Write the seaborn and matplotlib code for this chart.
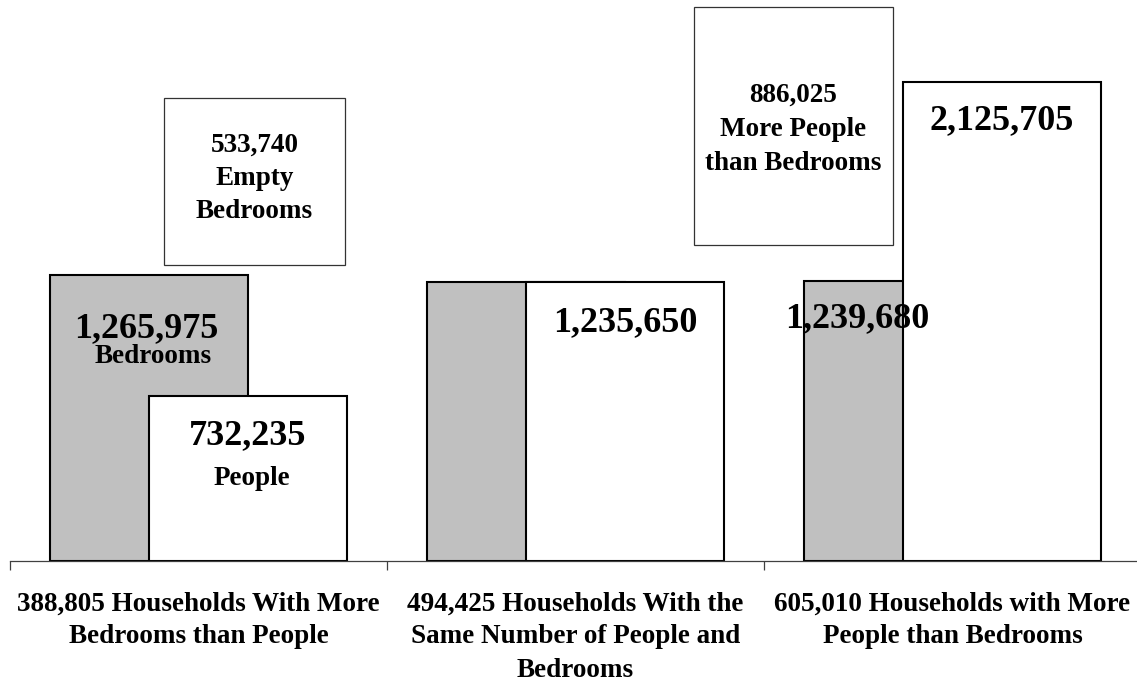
import pandas as pd
import matplotlib.pyplot as plt
import seaborn as sns
from matplotlib.patches import Rectangle

# data
categories = ["388,805 Households With More\nBedrooms than People",
              "494,425 Households With the\nSame Number of People and\nBedrooms",
              "605,010 Households with More\nPeople than Bedrooms"]
bedrooms = [1265975, 1235650, 1239680]
people = [732235, 1235650, 2125705]
notes = [["533,740", "Empty", "Bedrooms"],
         ["886,025", "More People", "than Bedrooms"]]

df = pd.DataFrame({"group": categories * 2,
                   "count": bedrooms + people,
                   "series": ["Bedrooms"] * 3 + ["People"] * 3})

sns.set_style("white")
plt.rcParams['font.family'] = ['Liberation Serif', 'DejaVu Serif']
plt.rcParams['font.weight'] = 'bold'
plt.rcParams['text.color'] = 'black'
plt.rcParams['xtick.color'] = 'black'

fig = plt.figure(figsize=(11.37, 6.85), dpi=100)
ax = fig.add_axes([10 / 1137, 1 - 560.7 / 685, 1131 / 1137, 560.7 / 685])

sns.barplot(data=df, x="group", y="count", hue="series",
            palette={"Bedrooms": "#c0c0c0", "People": "white"},
            edgecolor="black", linewidth=1.5, width=0.526, dodge=True,
            legend=False, ax=ax)

# excel-style 50% overlap: widen each dodged bar to twice its width
for p in ax.patches:
    w = p.get_width()
    p.set_x(p.get_x() - w / 2)
    p.set_width(2 * w)

ax.set_xlim(-0.5, 2.5)
ax.set_ylim(0, 2487300)
ax.set_yticks([])
ax.set_xlabel("")
ax.set_ylabel("")
for s in ["left", "right", "top"]:
    ax.spines[s].set_visible(False)
ax.spines["bottom"].set_color("#404040")
ax.spines["bottom"].set_linewidth(0.9)

ax.set_xticks([0, 1, 2])
ax.set_xticklabels(categories, fontsize=19.5, fontweight="bold", linespacing=1.43,
                   color="black")
ax.set_xticks([-0.5, 0.5, 1.5, 2.5], minor=True)
ax.tick_params(axis="x", which="major", length=0, pad=22)
ax.tick_params(axis="x", which="minor", bottom=True, length=6.5, width=0.9,
               color="#404040", direction="out")


def label(bar, txt, dx_px, dy_px, size):
    cx = bar.get_x() + bar.get_width() / 2
    ax.annotate(txt, (cx, bar.get_height()), xytext=(dx_px * 0.72, dy_px * 0.72),
                textcoords="offset points", ha="center", va="baseline",
                fontsize=size, fontweight="bold", color="black", zorder=5)


bed_bars = ax.patches[:3]
ppl_bars = ax.patches[3:6]
label(bed_bars[0], "1,265,975", -2.5, -62, 26)
label(bed_bars[0], "Bedrooms", 4, -88, 19.5)
label(ppl_bars[0], "732,235", 0, -48, 26)
label(ppl_bars[0], "People", 4, -89, 19.5)
label(ppl_bars[1], "1,235,650", 0, -49, 26)
label(bed_bars[2], "1,239,680", -46, -46, 26)
label(ppl_bars[2], "2,125,705", 0, -48, 26)

# note boxes
boxes = [(-0.0915, 1311700, 0.4801, 740900, [-54, -87, -120]),
         (1.3143, 1400400, 0.5279, 1055800, [-95, -129, -163])]
for (x0, y0, bw, bh, offs), lines in zip(boxes, notes):
    ax.add_patch(Rectangle((x0, y0), bw, bh, facecolor="white",
                           edgecolor="#333333", linewidth=0.9, zorder=4))
    for txt, off in zip(lines, offs):
        ax.annotate(txt, (x0 + bw / 2, y0 + bh), xytext=(0, off * 0.72),
                    textcoords="offset points", ha="center", va="baseline",
                    fontsize=19.5, fontweight="bold", color="black", zorder=5)

plt.savefig("out.png", dpi=100)
plt.close()
